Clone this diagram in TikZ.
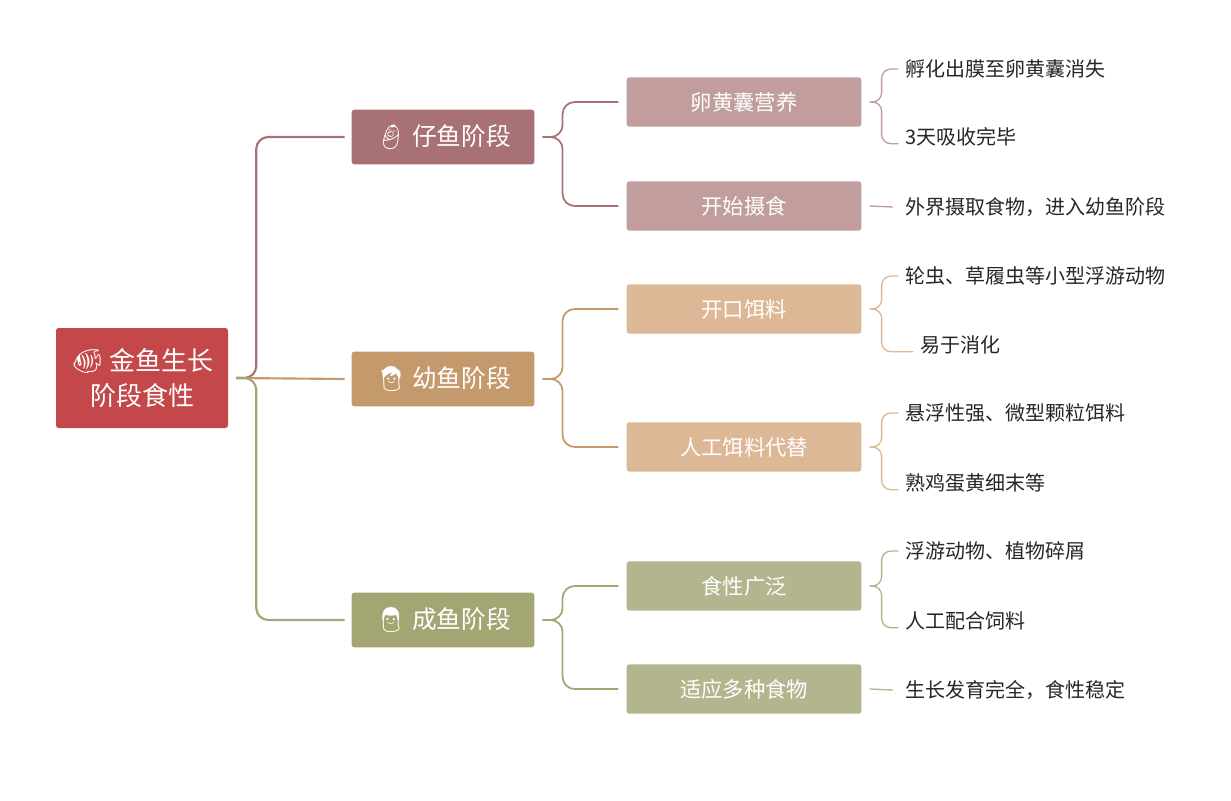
\documentclass[tikz,border=0pt]{standalone}
\usepackage{fontspec}
\setmainfont{Noto Sans CJK SC}
\newfontfamily\emo{Noto Emoji}
\usetikzlibrary{positioning}

\definecolor{rootc}{HTML}{C4474A}
\definecolor{aone}{HTML}{A87274}
\definecolor{atwo}{HTML}{C4996C}
\definecolor{athree}{HTML}{A3A673}
\definecolor{bone}{HTML}{C19D9D}
\definecolor{btwo}{HTML}{DDB897}
\definecolor{bthree}{HTML}{B3B58F}

\tikzset{
  rootbox/.style={fill=rootc, rounded corners=2pt, text=white, minimum width=129pt, minimum height=75pt, font=\fontsize{19.5}{26}\selectfont, align=center},
  stagebox/.style={rounded corners=2pt, text=white, minimum width=137pt, minimum height=41pt, font=\fontsize{18.5}{20}\selectfont},
  subbox/.style={rounded corners=2pt, text=white, minimum width=176pt, minimum height=37pt, font=\fontsize{16}{18}\selectfont},
  leaf/.style={anchor=west, font=\fontsize{15}{17}\selectfont, text=black!85},
  link/.style={line width=1.6pt, rounded corners=9pt},
  twig/.style={line width=1pt, rounded corners=7pt}
}

\begin{document}
\begin{tikzpicture}[x=0.75pt,y=-0.75pt]
	\useasboundingbox (0,0) rectangle (1231,800);

	\node[rootbox] (root) at (142,378) {{\emo🐠} 金鱼生长\\阶段食性};

	\node[stagebox, fill=aone] (s1) at (443,137) {{\emo👶} 仔鱼阶段};
	\node[stagebox, fill=atwo] (s2) at (443,379) {{\emo🧒} 幼鱼阶段};
	\node[stagebox, fill=athree] (s3) at (443,620) {{\emo👨} 成鱼阶段};

	\node[subbox, fill=bone] (a1) at (744,102) {卵黄囊营养};
	\node[subbox, fill=bone] (a2) at (744,206) {开始摄食};
	\node[subbox, fill=btwo] (b1) at (744,309) {开口饵料};
	\node[subbox, fill=btwo] (b2) at (744,447) {人工饵料代替};
	\node[subbox, fill=bthree] (c1) at (744,586) {食性广泛};
	\node[subbox, fill=bthree] (c2) at (744,689) {适应多种食物};

	\node[leaf] (a11) at (901,69) {孵化出膜至卵黄囊消失};
	\node[leaf] (a12) at (901,137) {3天吸收完毕};
	\node[leaf] (a21) at (901,207) {外界摄取食物，进入幼鱼阶段};
	\node[leaf] (b11) at (901,276) {轮虫、草履虫等小型浮游动物};
	\node[leaf] (b12) at (916,345) {易于消化};
	\node[leaf] (b21) at (901,413) {悬浮性强、微型颗粒饵料};
	\node[leaf] (b22) at (901,483) {熟鸡蛋黄细末等};
	\node[leaf] (c11) at (901,551) {浮游动物、植物碎屑};
	\node[leaf] (c12) at (901,621) {人工配合饲料};
	\node[leaf] (c21) at (901,690) {生长发育完全，食性稳定};

	% root to stages
	\coordinate (rj) at ([xshift=6]root.east);
	\draw[link, aone] (rj) -- ++(20,0) |- ([xshift=-5]s1.west);
	\draw[link, atwo, rounded corners=0pt] (rj) -- ([xshift=-5]s2.west);
	\draw[link, athree] (rj) -- ++(20,0) |- ([xshift=-5]s3.west);

	% stages to topics
	\foreach \s/\u/\v/\c in {s1/a1/a2/aone, s2/b1/b2/atwo, s3/c1/c2/athree} {
		\draw[link, \c, line width=1.3pt] ([xshift=6]\s.east) -- ++(20,0) |- ([xshift=-6]\u.west);
		\draw[link, \c, line width=1.3pt] ([xshift=6]\s.east) -- ++(20,0) |- ([xshift=-6]\v.west);
	}

	% topics to notes
	\foreach \t/\p/\q/\c in {a1/a11/a12/bone, b1/b11/b12/btwo, b2/b21/b22/btwo, c1/c11/c12/bthree} {
		\draw[twig, \c] ([xshift=6]\t.east) -- ++(12,0) |- ([xshift=-2]\p.west);
		\draw[twig, \c] ([xshift=6]\t.east) -- ++(12,0) |- ([xshift=-2,yshift=-5]\q.west);
	}
	\draw[twig, bone] ([xshift=6]a2.east) -- ([xshift=-6]a21.west);
	\draw[twig, bthree] ([xshift=6]c2.east) -- ([xshift=-6]c21.west);
\end{tikzpicture}
\end{document}
